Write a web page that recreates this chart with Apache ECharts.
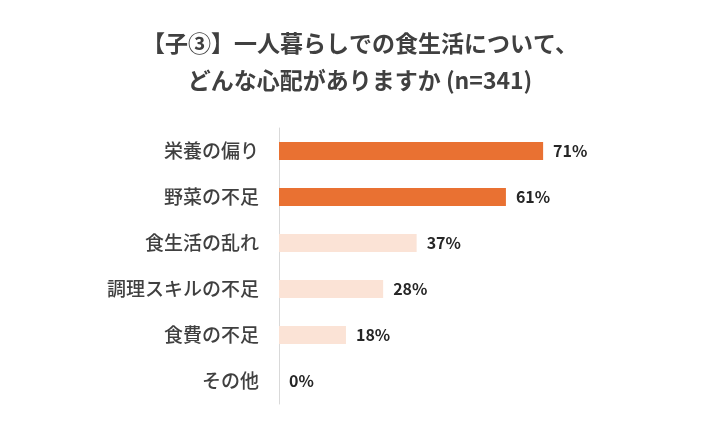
<!DOCTYPE html>
<html>
<head>
<meta charset="utf-8">
<script src="https://cdn.jsdelivr.net/npm/echarts@6/dist/echarts.min.js"></script>
<style>html,body{margin:0;background:#fff}#c{width:720px;height:432px}</style>
</head>
<body>
<div id="c"></div>
<script>
var categories = ['栄養の偏り', '野菜の不足', '食生活の乱れ', '調理スキルの不足', '食費の不足', 'その他'];
var values = [71, 61, 37, 28, 18, 0];
var barColors = ['#E97132', '#E97132', '#FBE3D6', '#FBE3D6', '#FBE3D6', '#FBE3D6'];

var chart = echarts.init(document.getElementById('c'));
chart.setOption({
    title: {
        text: '【子③】一人暮らしでの食生活について、\nどんな心配がありますか (n=341)',
        left: 'center',
        top: 20,
        textStyle: {
            fontFamily: 'Noto Sans CJK JP',
            fontSize: 23,
            fontWeight: 'bold',
            color: '#404040',
            lineHeight: 37
        }
    },
    grid: { left: 279, right: 69, top: 128, bottom: 28 },
    xAxis: {
        type: 'value', min: 0, max: 100,
        show: false
    },
    yAxis: {
        type: 'category',
        data: categories,
        inverse: true,
        axisTick: { show: false },
        axisLine: { lineStyle: { color: '#D9D9D9', width: 1 } },
        axisLabel: {
            margin: 20,
            fontFamily: 'Noto Sans CJK JP',
            fontSize: 19,
            fontWeight: 500,
            color: '#404040'
        }
    },
    series: [{
        type: 'bar',
        data: values.map(function (v, i) {
            return { value: v, itemStyle: { color: barColors[i] } };
        }),
        barWidth: 18,
        label: {
            show: true,
            position: 'right',
            distance: 10,
            formatter: '{c}%',
            fontFamily: 'Noto Sans CJK JP',
            fontSize: 16,
            fontWeight: 'bold',
            color: '#262626'
        }
    }]
});
</script>
</body>
</html>
